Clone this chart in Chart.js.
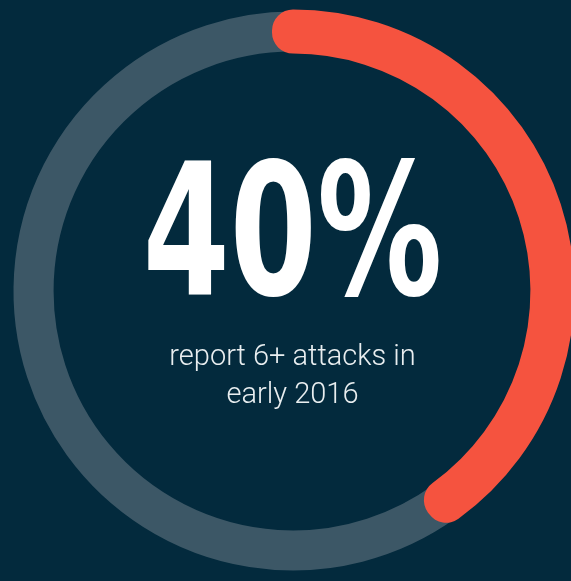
<!DOCTYPE html>
<html>
<head>
<meta charset="utf-8">
<script src="https://cdn.jsdelivr.net/npm/chart.js@4.4.1/dist/chart.umd.min.js"></script>
<style>
  html, body { margin: 0; padding: 0; width: 571px; height: 581px; overflow: hidden; background: #032a3d; }
  #wrap { position: absolute; left: -7px; top: -9px; width: 600px; height: 600px; }
  #big {
    position: absolute; left: 0; width: 585px; top: 139px; text-align: center;
    font-family: "DejaVu Sans Condensed", "DejaVu Sans", sans-serif; font-weight: bold;
    font-size: 183px; line-height: 183px; color: #ffffff;
    transform: scaleX(0.76); transform-origin: 292.5px 0;
  }
  .sub {
    position: absolute; left: 0; width: 585px; text-align: center;
    font-family: Roboto, "Open Sans", sans-serif; font-weight: 300;
    font-size: 29px; line-height: 29px; color: #e9eef0;
  }
</style>
</head>
<body>
<div id="wrap"><canvas id="ring" width="600" height="600"></canvas></div>
<div id="big">40%</div>
<div class="sub" style="top:341px">report 6+ attacks in</div>
<div class="sub" style="top:379px">early 2016</div>
<script>
// grey track first, red share second so it is drawn on top
const labels = ['Other', 'Report 6+ attacks in early 2016'];
const values = [60, 40];
const colors = ['#3c5766', '#f5533f'];
const strokeWidths = [38, 42];

const total = values.reduce((a, b) => a + b, 0);
// start the grey where the red ends, so the red begins at 12 o'clock
const startRotation = values[1] / total * 360;

new Chart(document.getElementById('ring').getContext('2d'), {
    type: 'doughnut',
    data: {
        labels: labels,
        datasets: [{
            data: values,
            backgroundColor: colors,
            borderColor: colors,
            borderWidth: strokeWidths,
            borderJoinStyle: 'round',
            borderAlign: 'center'
        }]
    },
    options: {
        responsive: false,
        animation: false,
        events: [],
        rotation: startRotation,
        radius: 260.5,
        cutout: '99.2%',
        layout: { padding: 0 },
        plugins: {
            legend: { display: false },
            tooltip: { enabled: false }
        }
    }
});
</script>
</body>
</html>
